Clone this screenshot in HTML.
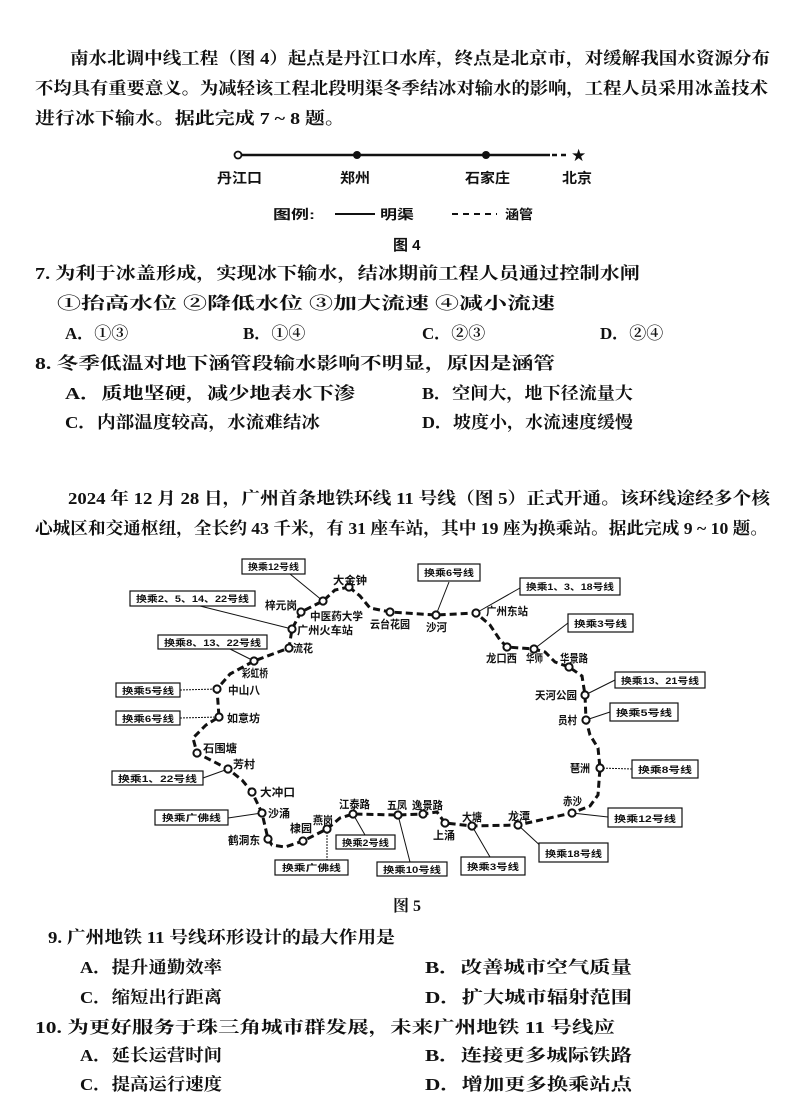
<!DOCTYPE html>
<html><head><meta charset="utf-8"><style>
html,body{margin:0;padding:0;background:#fff}
svg{display:block}
.t{font-family:"Liberation Serif","Noto Serif CJK SC","Noto Sans CJK SC",serif;font-weight:bold;font-size:17px;fill:#111}
.s{font-family:"Liberation Sans","Noto Sans CJK SC",sans-serif;font-weight:bold;font-size:11px;fill:#111}
.b{font-family:"Liberation Sans","Noto Sans CJK SC",sans-serif;font-weight:bold;font-size:9px;fill:#111}
</style></head><body>
<svg width="800" height="1105" viewBox="0 0 800 1105" xmlns="http://www.w3.org/2000/svg">
<g class="t" lengthAdjust="spacingAndGlyphs">
<text x="70" y="64" textLength="700" lengthAdjust="spacingAndGlyphs">南水北调中线工程（图 4）起点是丹江口水库，终点是北京市，对缓解我国水资源分布</text>
<text x="35" y="94" textLength="733" lengthAdjust="spacingAndGlyphs">不均具有重要意义。为减轻该工程北段明渠冬季结冰对输水的影响，工程人员采用冰盖技术</text>
<text x="35" y="124" textLength="310" lengthAdjust="spacingAndGlyphs">进行冰下输水。据此完成 7 ~ 8 题。</text>
<text x="35" y="279" textLength="605" lengthAdjust="spacingAndGlyphs">7.  为利于冰盖形成，实现冰下输水，结冰期前工程人员通过控制水闸</text>
<text x="57" y="309" textLength="498" lengthAdjust="spacingAndGlyphs">①抬高水位    ②降低水位    ③加大流速    ④减小流速</text>
<text x="65" y="339">A．①③</text><text x="243" y="339">B．①④</text><text x="422" y="339">C．②③</text><text x="600" y="339">D．②④</text>
<text x="35" y="369" textLength="520" lengthAdjust="spacingAndGlyphs">8.  冬季低温对地下涵管段输水影响不明显，原因是涵管</text>
<text x="65" y="399" textLength="290" lengthAdjust="spacingAndGlyphs">A．质地坚硬，减少地表水下渗</text>
<text x="422" y="399" textLength="211" lengthAdjust="spacingAndGlyphs">B．空间大，地下径流量大</text>
<text x="65" y="428" textLength="255" lengthAdjust="spacingAndGlyphs">C．内部温度较高，水流难结冰</text>
<text x="422" y="428" textLength="211" lengthAdjust="spacingAndGlyphs">D．坡度小，水流速度缓慢</text>
<text x="68" y="504" textLength="702" lengthAdjust="spacingAndGlyphs">2024 年 12 月 28 日，广州首条地铁环线 11 号线（图 5）正式开通。该环线途经多个核</text>
<text x="35" y="534" textLength="733" lengthAdjust="spacingAndGlyphs">心城区和交通枢纽，全长约 43 千米，有 31 座车站，其中 19 座为换乘站。据此完成 9 ~ 10 题。</text>
<text x="393" y="911" font-size="16">图 5</text>
<text x="48" y="943" textLength="347" lengthAdjust="spacingAndGlyphs">9.  广州地铁 11 号线环形设计的最大作用是</text>
<text x="80" y="973" textLength="142" lengthAdjust="spacingAndGlyphs">A．提升通勤效率</text>
<text x="425" y="973" textLength="207" lengthAdjust="spacingAndGlyphs">B．改善城市空气质量</text>
<text x="80" y="1003" textLength="142" lengthAdjust="spacingAndGlyphs">C．缩短出行距离</text>
<text x="425" y="1003" textLength="207" lengthAdjust="spacingAndGlyphs">D．扩大城市辐射范围</text>
<text x="35" y="1033" textLength="580" lengthAdjust="spacingAndGlyphs">10.  为更好服务于珠三角城市群发展，未来广州地铁 11 号线应</text>
<text x="80" y="1061" textLength="142" lengthAdjust="spacingAndGlyphs">A．延长运营时间</text>
<text x="425" y="1061" textLength="207" lengthAdjust="spacingAndGlyphs">B．连接更多城际铁路</text>
<text x="80" y="1090" textLength="142" lengthAdjust="spacingAndGlyphs">C．提高运行速度</text>
<text x="425" y="1090" textLength="207" lengthAdjust="spacingAndGlyphs">D．增加更多换乘站点</text>
</g>
<!-- Fig 4 -->
<line x1="238" y1="155" x2="550" y2="155" stroke="#111" stroke-width="2.5"/>
<line x1="552" y1="155" x2="570" y2="155" stroke="#111" stroke-width="2.5" stroke-dasharray="5 4"/>
<circle cx="238" cy="155" r="3.5" fill="#fff" stroke="#111" stroke-width="1.8"/>
<circle cx="357" cy="155" r="4" fill="#111"/><circle cx="486" cy="155" r="4" fill="#111"/>
<text x="571" y="161" font-size="17" fill="#111">★</text>
<g class="s" style="font-size:14px">
<text x="217" y="183" textLength="45" lengthAdjust="spacingAndGlyphs">丹江口</text>
<text x="340" y="183" textLength="30" lengthAdjust="spacingAndGlyphs">郑州</text>
<text x="465" y="183" textLength="45" lengthAdjust="spacingAndGlyphs">石家庄</text>
<text x="562" y="183" textLength="30" lengthAdjust="spacingAndGlyphs">北京</text>
<text x="273" y="219" font-size="13" textLength="42" lengthAdjust="spacingAndGlyphs">图例:</text>
<text x="380" y="219" font-size="13" textLength="34" lengthAdjust="spacingAndGlyphs">明渠</text>
<text x="505" y="219" font-size="13" textLength="28" lengthAdjust="spacingAndGlyphs">涵管</text>
<text x="393" y="250" font-size="15">图 4</text>
</g>
<line x1="335" y1="214" x2="375" y2="214" stroke="#111" stroke-width="2"/>
<line x1="452" y1="214" x2="497" y2="214" stroke="#111" stroke-width="2" stroke-dasharray="6 5"/>
<!-- Fig 5 connectors -->
<g stroke="#111" stroke-width="1" fill="none">
<line x1="290" y1="574" x2="323" y2="601"/>
<line x1="200" y1="606" x2="292" y2="629"/>
<line x1="230" y1="649" x2="254" y2="661"/>
<line x1="180" y1="690" x2="217" y2="689" stroke-dasharray="2 1"/>
<line x1="180" y1="718" x2="219" y2="717" stroke-dasharray="2 1"/>
<line x1="203" y1="778" x2="228" y2="769"/>
<line x1="228" y1="818" x2="262" y2="813"/>
<line x1="327" y1="829" x2="327" y2="860" stroke-dasharray="2 1"/>
<line x1="353" y1="814" x2="365" y2="835"/>
<line x1="398" y1="815" x2="410" y2="862"/>
<line x1="449" y1="582" x2="436" y2="615"/>
<line x1="520" y1="588" x2="476" y2="613"/>
<line x1="568" y1="623" x2="534" y2="649"/>
<line x1="615" y1="680" x2="585" y2="695"/>
<line x1="610" y1="712" x2="586" y2="720"/>
<line x1="632" y1="769" x2="600" y2="768" stroke-dasharray="2 1"/>
<line x1="608" y1="817" x2="572" y2="813"/>
<line x1="545" y1="850" x2="518" y2="825"/>
<line x1="490" y1="857" x2="472" y2="826"/>
</g>
<polyline fill="none" stroke="#111" stroke-width="3" stroke-dasharray="7 4" points="349,587 360,596 370,608 390,612 436,615 476,613 490,625 500,640 507,647 534,649 545,652 555,662 569,667 582,676 585,695 586,720 590,735 598,748 600,768 598,795 590,806 572,813 518,825 472,826 445,823 437,812 423,814 398,815 353,814 340,818 327,829 303,841 285,847 272,845 268,839 262,813 252,792 242,780 228,769 197,753 193,738 206,725 219,717 217,689 230,674 254,661 289,648 292,629 301,612 323,601 335,590 349,587"/>
<g fill="#fff" stroke="#111" stroke-width="2">
<circle cx="349" cy="587" r="3.6"/><circle cx="323" cy="601" r="3.6"/><circle cx="390" cy="612" r="3.6"/><circle cx="436" cy="615" r="3.6"/><circle cx="476" cy="613" r="3.6"/><circle cx="507" cy="647" r="3.6"/><circle cx="534" cy="649" r="3.6"/><circle cx="569" cy="667" r="3.6"/><circle cx="585" cy="695" r="3.6"/><circle cx="586" cy="720" r="3.6"/><circle cx="600" cy="768" r="3.6"/><circle cx="572" cy="813" r="3.6"/><circle cx="518" cy="825" r="3.6"/><circle cx="472" cy="826" r="3.6"/><circle cx="445" cy="823" r="3.6"/><circle cx="423" cy="814" r="3.6"/><circle cx="398" cy="815" r="3.6"/><circle cx="353" cy="814" r="3.6"/><circle cx="327" cy="829" r="3.6"/><circle cx="303" cy="841" r="3.6"/><circle cx="268" cy="839" r="3.6"/><circle cx="262" cy="813" r="3.6"/><circle cx="252" cy="792" r="3.6"/><circle cx="228" cy="769" r="3.6"/><circle cx="197" cy="753" r="3.6"/><circle cx="219" cy="717" r="3.6"/><circle cx="217" cy="689" r="3.6"/><circle cx="254" cy="661" r="3.6"/><circle cx="289" cy="648" r="3.6"/><circle cx="292" cy="629" r="3.6"/><circle cx="301" cy="612" r="3.6"/>
</g>
<!-- boxes -->
<g fill="#fff" stroke="#111" stroke-width="1.2">
<rect x="242" y="559" width="63" height="15"/><rect x="130" y="591" width="125" height="15"/><rect x="158" y="635" width="109" height="14"/><rect x="116" y="683" width="64" height="14"/><rect x="116" y="711" width="64" height="14"/><rect x="112" y="771" width="91" height="14"/><rect x="155" y="810" width="73" height="15"/><rect x="336" y="835" width="59" height="14"/><rect x="275" y="860" width="73" height="15"/><rect x="377" y="862" width="70" height="14"/><rect x="418" y="564" width="62" height="17"/><rect x="520" y="578" width="100" height="17"/><rect x="568" y="614" width="65" height="18"/><rect x="615" y="672" width="90" height="16"/><rect x="610" y="703" width="68" height="18"/><rect x="632" y="760" width="66" height="18"/><rect x="608" y="808" width="74" height="19"/><rect x="539" y="843" width="69" height="19"/><rect x="461" y="857" width="64" height="18"/>
</g>
<g class="b">
<text x="248" y="570" textLength="51" lengthAdjust="spacingAndGlyphs">换乘12号线</text>
<text x="136" y="602" textLength="113" lengthAdjust="spacingAndGlyphs">换乘2、5、14、22号线</text>
<text x="164" y="646" textLength="97" lengthAdjust="spacingAndGlyphs">换乘8、13、22号线</text>
<text x="122" y="694" textLength="52" lengthAdjust="spacingAndGlyphs">换乘5号线</text>
<text x="122" y="722" textLength="52" lengthAdjust="spacingAndGlyphs">换乘6号线</text>
<text x="118" y="782" textLength="79" lengthAdjust="spacingAndGlyphs">换乘1、22号线</text>
<text x="162" y="821" textLength="59" lengthAdjust="spacingAndGlyphs">换乘广佛线</text>
<text x="342" y="846" textLength="47" lengthAdjust="spacingAndGlyphs">换乘2号线</text>
<text x="282" y="871" textLength="59" lengthAdjust="spacingAndGlyphs">换乘广佛线</text>
<text x="383" y="873" textLength="58" lengthAdjust="spacingAndGlyphs">换乘10号线</text>
<text x="424" y="576" textLength="50" lengthAdjust="spacingAndGlyphs">换乘6号线</text>
<text x="526" y="590" textLength="88" lengthAdjust="spacingAndGlyphs">换乘1、3、18号线</text>
<text x="574" y="627" textLength="53" lengthAdjust="spacingAndGlyphs">换乘3号线</text>
<text x="621" y="684" textLength="78" lengthAdjust="spacingAndGlyphs">换乘13、21号线</text>
<text x="616" y="716" textLength="56" lengthAdjust="spacingAndGlyphs">换乘5号线</text>
<text x="638" y="773" textLength="54" lengthAdjust="spacingAndGlyphs">换乘8号线</text>
<text x="614" y="822" textLength="62" lengthAdjust="spacingAndGlyphs">换乘12号线</text>
<text x="545" y="857" textLength="57" lengthAdjust="spacingAndGlyphs">换乘18号线</text>
<text x="467" y="870" textLength="52" lengthAdjust="spacingAndGlyphs">换乘3号线</text>
</g>
<g class="s">
<text x="333" y="584" textLength="34" lengthAdjust="spacingAndGlyphs">大金钟</text>
<text x="265" y="609" textLength="32" lengthAdjust="spacingAndGlyphs">梓元岗</text>
<text x="310" y="620" textLength="53" lengthAdjust="spacingAndGlyphs">中医药大学</text>
<text x="370" y="628" textLength="40" lengthAdjust="spacingAndGlyphs">云台花园</text>
<text x="426" y="631" textLength="21" lengthAdjust="spacingAndGlyphs">沙河</text>
<text x="297" y="634" textLength="56" lengthAdjust="spacingAndGlyphs">广州火车站</text>
<text x="293" y="652" textLength="20" lengthAdjust="spacingAndGlyphs">流花</text>
<text x="242" y="677" textLength="26" lengthAdjust="spacingAndGlyphs">彩虹桥</text>
<text x="228" y="694" textLength="32" lengthAdjust="spacingAndGlyphs">中山八</text>
<text x="227" y="722" textLength="33" lengthAdjust="spacingAndGlyphs">如意坊</text>
<text x="203" y="752" textLength="34" lengthAdjust="spacingAndGlyphs">石围塘</text>
<text x="233" y="768" textLength="22" lengthAdjust="spacingAndGlyphs">芳村</text>
<text x="260" y="796" textLength="35" lengthAdjust="spacingAndGlyphs">大冲口</text>
<text x="268" y="817" textLength="22" lengthAdjust="spacingAndGlyphs">沙涌</text>
<text x="228" y="844" textLength="32" lengthAdjust="spacingAndGlyphs">鹤洞东</text>
<text x="290" y="832" textLength="22" lengthAdjust="spacingAndGlyphs">棣园</text>
<text x="313" y="824" textLength="20" lengthAdjust="spacingAndGlyphs">燕岗</text>
<text x="339" y="808" textLength="31" lengthAdjust="spacingAndGlyphs">江泰路</text>
<text x="387" y="809" textLength="20" lengthAdjust="spacingAndGlyphs">五凤</text>
<text x="412" y="809" textLength="31" lengthAdjust="spacingAndGlyphs">逸景路</text>
<text x="433" y="839" textLength="22" lengthAdjust="spacingAndGlyphs">上涌</text>
<text x="462" y="821" textLength="20" lengthAdjust="spacingAndGlyphs">大塘</text>
<text x="508" y="820" textLength="22" lengthAdjust="spacingAndGlyphs">龙潭</text>
<text x="563" y="805" textLength="19" lengthAdjust="spacingAndGlyphs">赤沙</text>
<text x="570" y="772" textLength="20" lengthAdjust="spacingAndGlyphs">琶洲</text>
<text x="558" y="724" textLength="19" lengthAdjust="spacingAndGlyphs">员村</text>
<text x="535" y="699" textLength="42" lengthAdjust="spacingAndGlyphs">天河公园</text>
<text x="560" y="662" textLength="28" lengthAdjust="spacingAndGlyphs">华景路</text>
<text x="526" y="662" textLength="17" lengthAdjust="spacingAndGlyphs">华师</text>
<text x="486" y="662" textLength="31" lengthAdjust="spacingAndGlyphs">龙口西</text>
<text x="486" y="615" textLength="42" lengthAdjust="spacingAndGlyphs">广州东站</text>
</g>
</svg>
</body></html>
